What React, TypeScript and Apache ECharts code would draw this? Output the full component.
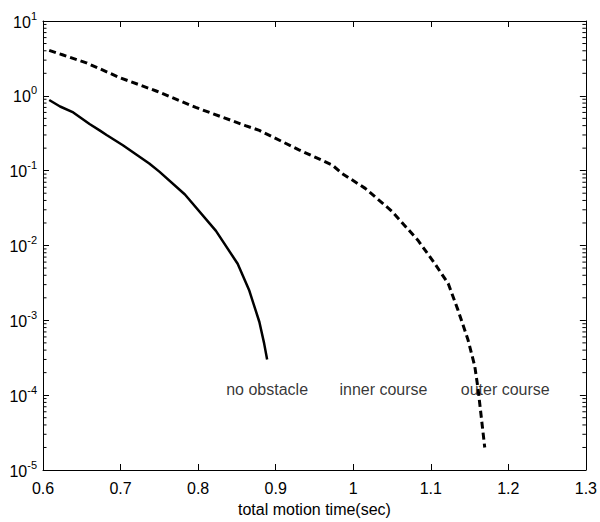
import React, { useEffect, useRef } from "react";
import * as echarts from "echarts";

const noObstacleX = [0.608, 0.622, 0.639, 0.66, 0.673, 0.682, 0.703, 0.737, 0.75, 0.783, 0.823, 0.851, 0.866, 0.879, 0.885, 0.889];
const noObstacleY = [0.88, 0.72, 0.6, 0.42, 0.345, 0.3, 0.219, 0.125, 0.097, 0.048, 0.0157, 0.0057, 0.0025, 0.00095, 0.0005, 0.0003];

const outerX = [0.608, 0.625, 0.656, 0.699, 0.746, 0.797, 0.861, 0.879, 0.93, 0.973, 0.9855, 1.0155, 1.0497, 1.084, 1.1054, 1.1225, 1.135, 1.148, 1.1567, 1.161, 1.1696];
const outerY = [4.05, 3.54, 2.76, 1.75, 1.16, 0.7, 0.4, 0.345, 0.19, 0.119, 0.092, 0.058, 0.0288, 0.01156, 0.00568, 0.0031, 0.00138, 0.00055, 0.000245, 0.000121, 0.00002];

const labelTexts = ["no obstacle", "inner course", "outer course"];
const labelX = [0.889, 1.039, 1.196];
const labelY = [0.00012, 0.00012, 0.00012];

const xMin = 0.6;
const xMax = 1.3;
const yMin = 1e-5;
const yMax = 10;
const decades = [-5, -4, -3, -2, -1, 0];
const minorMultipliers = [2, 3, 4, 5, 6, 7, 8, 9];

const FONT = "Liberation Sans, Arial, Helvetica, sans-serif";

export default function App() {
  const ref = useRef<HTMLDivElement>(null);
  useEffect(() => {
    if (!ref.current) return;
    const chart = echarts.init(ref.current, undefined, { renderer: "svg" });
    const minorTicks: number[][] = [];
    decades.forEach((d) => minorMultipliers.forEach((m) => minorTicks.push([xMin, m * Math.pow(10, d)])));

    const yLabelFmt = (v: number) => {
      const e = Math.round(Math.log10(v));
      return "{b|10}{e|" + e + "}";
    };

    const yAxisBase = {
      type: "log",
      logBase: 10,
      min: yMin,
      max: yMax,
      splitNumber: 6,
      axisLine: { show: true, lineStyle: { color: "#000", width: 1 } },
      axisTick: { show: true, inside: true, length: 6, lineStyle: { color: "#000" } },
      splitLine: { show: false },
    };

    chart.setOption({
      animation: false,
      backgroundColor: "#fff",
      grid: { left: 43, right: 12, top: 21, bottom: 47, containLabel: false },
      xAxis: [
        {
          type: "value",
          min: xMin,
          max: xMax,
          interval: 0.1,
          position: "bottom",
          name: "total motion time(sec)",
          nameLocation: "middle",
          nameGap: 31,
          nameTextStyle: { color: "#000", fontSize: 16, fontFamily: FONT },
          axisLine: { show: true, onZero: false, lineStyle: { color: "#000", width: 1 } },
          axisTick: { show: true, inside: true, length: 6, lineStyle: { color: "#000" } },
          axisLabel: {
            color: "#000",
            fontSize: 16,
            fontFamily: FONT,
            margin: 10,
            formatter: (v: number) => String(Math.round(v * 10) / 10),
          },
          splitLine: { show: false },
        },
        {
          type: "value",
          min: xMin,
          max: xMax,
          interval: 0.1,
          position: "top",
          axisLine: { show: true, onZero: false, lineStyle: { color: "#000", width: 1 } },
          axisTick: { show: true, inside: true, length: 6, lineStyle: { color: "#000" } },
          axisLabel: { show: false },
          splitLine: { show: false },
        },
      ],
      yAxis: [
        {
          ...yAxisBase,
          position: "left",
          axisLabel: {
            color: "#000",
            margin: 6,
            formatter: yLabelFmt,
            rich: {
              b: { fontSize: 16, fontFamily: FONT, color: "#000", verticalAlign: "bottom", lineHeight: 18 },
              e: { fontSize: 11, fontFamily: FONT, color: "#000", verticalAlign: "bottom", lineHeight: 18, padding: [0, 0, 9, 0] },
            },
          },
        },
        {
          ...yAxisBase,
          position: "right",
          axisLabel: { show: false },
        },
      ],
      series: [
        {
          type: "line",
          name: "no obstacle",
          xAxisIndex: 0,
          yAxisIndex: 0,
          data: noObstacleX.map((x, i) => [x, noObstacleY[i]]),
          showSymbol: false,
          symbol: "none",
          lineStyle: { color: "#000", width: 2.5, type: "solid" },
          z: 3,
        },
        {
          type: "line",
          name: "outer course",
          xAxisIndex: 0,
          yAxisIndex: 0,
          data: outerX.map((x, i) => [x, outerY[i]]),
          showSymbol: false,
          symbol: "none",
          lineStyle: { color: "#000", width: 3, type: [7, 4] },
          z: 3,
        },
        {
          type: "scatter",
          xAxisIndex: 0,
          yAxisIndex: 0,
          symbolSize: 0,
          data: labelTexts.map((t, i) => ({ value: [labelX[i], labelY[i]], name: t })),
          label: {
            show: true,
            position: "inside",
            formatter: (p: any) => p.name,
            color: "#000",
            fontSize: 16,
            fontFamily: FONT,
            textBorderWidth: 0,
          },
          silent: true,
          z: 4,
        },
        {
          type: "custom",
          xAxisIndex: 0,
          yAxisIndex: 0,
          data: minorTicks,
          silent: true,
          renderItem: (_params: any, api: any) => {
            const v = api.value(1);
            const l = api.coord([xMin, v]);
            const r = api.coord([xMax, v]);
            return {
              type: "group",
              children: [
                { type: "line", shape: { x1: l[0], y1: l[1], x2: l[0] + 3.5, y2: l[1] }, style: { stroke: "#000", lineWidth: 1 } },
                { type: "line", shape: { x1: r[0], y1: r[1], x2: r[0] - 3.5, y2: r[1] }, style: { stroke: "#000", lineWidth: 1 } },
              ],
            };
          },
          z: 2,
        },
      ],
    });
    return () => chart.dispose();
  }, []);
  return <div ref={ref} style={{ position: "fixed", left: 0, top: 0, width: 600, height: 522 }} />;
}
